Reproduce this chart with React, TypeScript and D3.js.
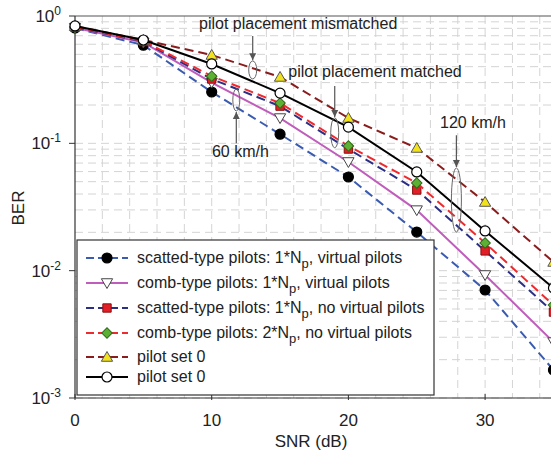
import React, { useEffect, useRef } from 'react';
import * as d3 from 'd3';

// SNR (dB) sample points
const snr = [0, 5, 10, 15, 20, 25, 30, 35];

// BER values
const scattedVirtual = [0.805, 0.59, 0.253, 0.118, 0.0544, 0.0201, 0.00705, 0.00166];
const combVirtual = [0.81, 0.62, 0.3, 0.158, 0.0714, 0.0299, 0.00925, 0.00275];
const scattedNoVirtual = [0.815, 0.63, 0.32, 0.196, 0.0902, 0.043, 0.0143, 0.00473];
const combNoVirtual = [0.82, 0.636, 0.337, 0.207, 0.0953, 0.0488, 0.0165, 0.00537];
const pilotSetMismatched = [0.83, 0.648, 0.494, 0.332, 0.158, 0.0919, 0.0346, 0.0117];
const pilotSetMatched = [0.835, 0.648, 0.42, 0.248, 0.134, 0.0596, 0.0205, 0.00731];

const xTicks = [0, 10, 20, 30];
const yTickExps = [0, -1, -2, -3];

const series = [
  { key: 'sv', pre: 'scatted-type pilots: 1*N', post: ', virtual pilots', values: scattedVirtual, color: '#3a5bb0', dash: '9,5', marker: 'circle', fill: '#000', stroke: '#000' },
  { key: 'cv', pre: 'comb-type pilots: 1*N', post: ', virtual pilots', values: combVirtual, color: '#c05cbc', dash: null, marker: 'tri-down', fill: '#fff', stroke: '#444' },
  { key: 'sn', pre: 'scatted-type pilots: 1*N', post: ', no virtual pilots', values: scattedNoVirtual, color: '#2a2f85', dash: '9,5', marker: 'square', fill: '#e21e26', stroke: '#8a1010' },
  { key: 'cn', pre: 'comb-type pilots: 2*N', post: ', no virtual pilots', values: combNoVirtual, color: '#ee2a2e', dash: '9,5', marker: 'diamond', fill: '#5cb034', stroke: '#2f6a1a' },
  { key: 'p0a', pre: 'pilot set 0', post: '', values: pilotSetMismatched, color: '#8b1c1c', dash: '9,5', marker: 'tri-up', fill: '#f2e21c', stroke: '#555' },
  { key: 'p0b', pre: 'pilot set 0', post: '', values: pilotSetMatched, color: '#000', dash: null, marker: 'open', fill: '#fff', stroke: '#000' },
];

// annotations in data units (snr, BER)
const annotations = [
  { label: 'pilot placement mismatched', tx: 9.07, ty: 0.79, anchor: 'start', ax: 13.0, a0: 0.697, a1: 0.45, ey: 0.377, rx: 4, ry: 9 },
  { label: 'pilot placement matched', tx: 15.6, ty: 0.332, anchor: 'start', ax: 19.0, a0: 0.282, a1: 0.161, ey: 0.121, rx: 4, ry: 15 },
  { label: '60 km/h', tx: 12.1, ty: 0.0779, anchor: 'middle', ax: 11.8, a0: 0.1, a1: 0.176, ey: 0.219, rx: 3.5, ry: 11 },
  { label: '120 km/h', tx: 26.7, ty: 0.132, anchor: 'start', ax: 27.9, a0: 0.116, a1: 0.0651, ey: 0.0359, rx: 5, ry: 32 },
];

const App = () => {
  const svgRef = useRef<SVGSVGElement>(null);

  useEffect(() => {
    const svg = d3.select(svgRef.current);
    svg.selectAll('*').remove();
    const width = 551;
    const height = 454;
    const left = 75;
    const top = 16;
    const bottom = 398;
    const font = '"Liberation Sans", Arial, sans-serif';

    const x = d3.scaleLinear().domain([0, 40]).range([left, left + 40 * 13.67]);
    const y = d3.scaleLog().domain([1e-3, 1]).range([bottom, top]);

    svg.append('rect').attr('width', width).attr('height', height).attr('fill', '#fff');

    // grid
    const grid = svg.append('g').attr('stroke', '#d4d4d4').attr('stroke-width', 1).attr('stroke-dasharray', '8,5');
    d3.range(2, 40, 2).forEach(v => {
      grid.append('line').attr('x1', x(v)).attr('x2', x(v)).attr('y1', top).attr('y2', bottom);
    });
    [-3, -2, -1].forEach(e => {
      d3.range(1, 10).forEach(m => {
        const v = m * Math.pow(10, e);
        if (v >= 1) return;
        grid.append('line').attr('x1', left).attr('x2', width).attr('y1', y(v)).attr('y2', y(v));
      });
    });

    // frame
    svg.append('line').attr('x1', left).attr('x2', width).attr('y1', top).attr('y2', top).attr('stroke', '#555').attr('stroke-width', 1.2);
    svg.append('line').attr('x1', left).attr('x2', width).attr('y1', bottom).attr('y2', bottom).attr('stroke', '#333').attr('stroke-width', 1.2);
    svg.append('line').attr('x1', left).attr('x2', left).attr('y1', top).attr('y2', bottom).attr('stroke', '#333').attr('stroke-width', 1.2);

    // y ticks
    yTickExps.forEach(e => {
      const yy = y(Math.pow(10, e));
      svg.append('line').attr('x1', left - 6).attr('x2', left).attr('y1', yy).attr('y2', yy).attr('stroke', '#333');
      const t = svg.append('text').attr('x', 61).attr('y', yy + 6).attr('text-anchor', 'end')
        .attr('font-family', font).attr('font-size', 17).attr('fill', '#222');
      t.append('tspan').text('10');
      t.append('tspan').attr('dy', -7).attr('font-size', 12).text(String(e));
    });

    // x ticks
    xTicks.forEach(v => {
      svg.append('line').attr('x1', x(v)).attr('x2', x(v)).attr('y1', bottom - 4).attr('y2', bottom + 2).attr('stroke', '#333');
      svg.append('text').attr('x', x(v)).attr('y', 426).attr('text-anchor', 'middle')
        .attr('font-family', font).attr('font-size', 17).attr('fill', '#222').text(v);
    });

    svg.append('text').attr('x', 311).attr('y', 447).attr('text-anchor', 'middle')
      .attr('font-family', font).attr('font-size', 17).attr('fill', '#222').text('SNR (dB)');
    svg.append('text').attr('transform', 'translate(24,208) rotate(-90)').attr('text-anchor', 'middle')
      .attr('font-family', font).attr('font-size', 17).attr('fill', '#222').text('BER');

    const drawMarker = (g: any, s: any, cx: number, cy: number) => {
      if (s.marker === 'circle' || s.marker === 'open') {
        g.append('circle').attr('cx', cx).attr('cy', cy).attr('r', 5)
          .attr('fill', s.fill).attr('stroke', s.stroke).attr('stroke-width', 1.2);
      } else {
        const sym = s.marker === 'square' || s.marker === 'diamond' ? d3.symbolSquare : d3.symbolTriangle;
        const size = s.marker === 'square' ? 70 : 55;
        const rot = s.marker === 'tri-down' ? 180 : s.marker === 'diamond' ? 45 : 0;
        g.append('path').attr('d', d3.symbol().type(sym).size(size)())
          .attr('transform', `translate(${cx},${cy + (s.marker === 'tri-up' ? 1 : s.marker === 'tri-down' ? -1 : 0)}) rotate(${rot})`)
          .attr('fill', s.fill).attr('stroke', s.stroke).attr('stroke-width', 1);
      }
    };

    const line = d3.line<number>().x((_, i) => x(snr[i])).y(d => y(d));
    series.forEach(s => {
      const g = svg.append('g');
      g.append('path').attr('d', line(s.values)).attr('fill', 'none')
        .attr('stroke', s.color).attr('stroke-width', 2)
        .attr('stroke-dasharray', s.dash);
      s.values.forEach((v, i) => drawMarker(g, s, x(snr[i]), y(v)));
    });

    // annotations
    const defs = svg.append('defs');
    defs.append('marker').attr('id', 'arr').attr('viewBox', '0 0 10 10').attr('refX', 10).attr('refY', 5)
      .attr('markerWidth', 7).attr('markerHeight', 9).attr('markerUnits', 'userSpaceOnUse').attr('orient', 'auto')
      .append('path').attr('d', 'M0,0 L10,5 L0,10 Z').attr('fill', '#555');
    annotations.forEach(a => {
      svg.append('text').attr('x', x(a.tx)).attr('y', y(a.ty)).attr('text-anchor', a.anchor)
        .attr('font-family', font).attr('font-size', 16).attr('fill', '#222').text(a.label);
      svg.append('line').attr('x1', x(a.ax)).attr('x2', x(a.ax)).attr('y1', y(a.a0)).attr('y2', y(a.a1))
        .attr('stroke', '#555').attr('stroke-width', 1.2).attr('marker-end', 'url(#arr)');
      svg.append('ellipse').attr('cx', x(a.ax)).attr('cy', y(a.ey)).attr('rx', a.rx).attr('ry', a.ry)
        .attr('fill', 'none').attr('stroke', '#666').attr('stroke-width', 1);
    });

    // legend
    const lg = svg.append('g');
    lg.append('rect').attr('x', 77).attr('y', 240).attr('width', 357).attr('height', 155)
      .attr('fill', '#fff').attr('stroke', '#333').attr('stroke-width', 1.2);
    const rows = [258, 283, 308, 333, 357, 377];
    series.forEach((s, i) => {
      const ry = rows[i];
      lg.append('line').attr('x1', 86).attr('x2', 128).attr('y1', ry).attr('y2', ry)
        .attr('stroke', s.color).attr('stroke-width', 2).attr('stroke-dasharray', s.dash ? '8,4' : null);
      drawMarker(lg, s, 107, ry);
      const t = lg.append('text').attr('x', 137).attr('y', ry + 5)
        .attr('font-family', font).attr('font-size', 16).attr('fill', '#222');
      t.append('tspan').text(s.pre);
      if (s.post) {
        t.append('tspan').attr('dy', 5).attr('font-size', 13).text('p');
        t.append('tspan').attr('dy', -5).text(s.post);
      }
    });
  }, []);

  return (
    <svg ref={svgRef} width={551} height={454}
      style={{ position: 'absolute', left: 0, top: 0 }} />
  );
};

export default App;
